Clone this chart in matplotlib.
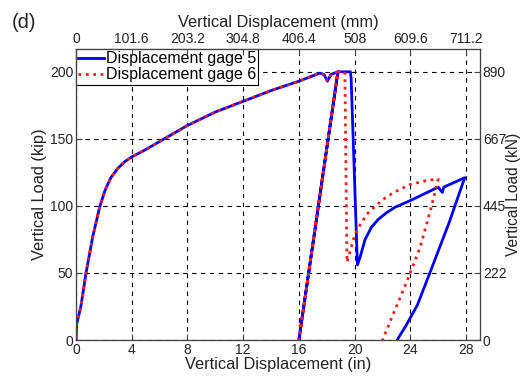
import matplotlib
matplotlib.use("Agg")
import matplotlib.pyplot as plt

plt.rcParams['font.family'] = ['Liberation Sans', 'DejaVu Sans']

# Load-displacement histories (in, kip)
gage5_x = [0, 0.05, 0.35, 0.72, 1.2, 1.72, 2.1, 2.5, 3.0, 3.5, 4.0, 5.0, 6.5, 8, 10,
           12, 14, 16, 17.5, 17.8, 18.05, 18.3, 18.8, 16.0, 18.8, 19.7, 19.75,
           20.2, 20.4, 20.75, 21.2, 21.7, 22.3, 22.9, 24.0, 25.2, 26.0, 26.3, 26.4,
           27.9, 26.8, 25.4, 24.5, 23.7, 23.05]
gage5_y = [0, 12, 25, 50, 77, 100, 112, 121, 128, 133, 136.5, 142, 151, 160, 170,
           178, 186, 193, 199, 198, 193, 198, 200, 0, 200, 200, 195,
           56, 62, 75, 84, 90, 95, 99, 104, 110, 114, 110, 114,
           121, 88, 50, 26, 11, 0]

gage6_x = [0, 0.05, 0.35, 0.72, 1.2, 1.72, 2.1, 2.5, 3.0, 3.5, 4.0, 5.0, 6.5, 8, 10,
           12, 14, 16, 17.5, 17.8, 18.05, 18.3, 18.8, 16.0, 18.8, 19.3, 19.45,
           19.7, 20.0, 20.4, 20.9, 21.5, 22.2, 22.8, 24.0, 25.2, 26.0, 25.5, 24.7,
           23.8, 22.0]
gage6_y = [0, 12, 25, 50, 77, 100, 112, 121, 128, 133, 136.5, 142, 151, 160, 170,
           178, 186, 193, 199, 198, 193, 198, 200, 0, 200, 200, 58,
           67, 78, 86, 94, 100, 106, 110, 116, 119, 120, 99, 69,
           45, 0]

x_ticks_in = [0, 4, 8, 12, 16, 20, 24, 28]
x_ticks_mm = ['0', '101.6', '203.2', '304.8', '406.4', '508', '609.6', '711.2']
y_ticks_kip = [0, 50, 100, 150, 200]
y_ticks_kn = ['0', '222', '445', '667', '890']

W, H = 521, 378
fig = plt.figure(figsize=(W / 100, H / 100), dpi=100)
ax = fig.add_axes([76 / W, 38 / H, 404 / W, 291 / H])

ax.plot(gage5_x, gage5_y, color='#0000ff', lw=2.0, label='Displacement gage 5')
ax.plot(gage6_x, gage6_y, color='#ff1a1a', lw=2.0, ls=':', label='Displacement gage 6')

ax.set_xlim(0, 29)
ax.set_ylim(0, 217)
ax.set_xticks(x_ticks_in)
ax.set_yticks(y_ticks_kip)
ax.grid(True, color='black', ls=(0, (4, 4)), lw=0.8)
ax.set_axisbelow(True)

spine_col = '#444444'
for s in ax.spines.values():
    s.set_color(spine_col)
ax.tick_params(direction='in', length=4, width=0.8, colors=spine_col,
               labelcolor='#222222', labelsize=10, pad=2)

ax.set_xlabel('Vertical Displacement (in)', fontsize=11.8, labelpad=0, color='#222222')
ax.set_ylabel('Vertical Load (kip)', fontsize=11.8, labelpad=2, color='#222222')

# Secondary scales in SI units
axt = ax.twiny()
axt.set_xlim(ax.get_xlim())
axt.set_xticks(x_ticks_in)
axt.set_xticklabels(x_ticks_mm)
axt.tick_params(direction='in', length=4, width=0.8, colors=spine_col,
                labelcolor='#222222', labelsize=10, pad=2)
axt.set_xlabel('Vertical Displacement (mm)', fontsize=11.8, labelpad=4, color='#222222')

axr = ax.twinx()
axr.set_ylim(ax.get_ylim())
axr.set_yticks(y_ticks_kip)
axr.set_yticklabels(y_ticks_kn)
axr.tick_params(direction='in', length=4, width=0.8, colors=spine_col,
                labelcolor='#222222', labelsize=10, pad=2)
axr.set_ylabel('Vertical Load (kN)', fontsize=11.2, labelpad=0, color='#222222')
for a in (axt, axr):
    for s in a.spines.values():
        s.set_color(spine_col)

leg = ax.legend(loc='upper left', bbox_to_anchor=(0, 1), borderaxespad=0,
                fontsize=11.5, frameon=True, fancybox=False, framealpha=1,
                edgecolor='black', handlelength=1.6, handletextpad=0.1,
                borderpad=0.15, labelspacing=0.05)
leg.get_frame().set_linewidth(0.8)
leg.set_zorder(10)

fig.text(12 / W, 1 - 22 / H, '(d)', fontsize=14.5, va='center', ha='left', color='#222222')

fig.savefig('out.png', dpi=100)
